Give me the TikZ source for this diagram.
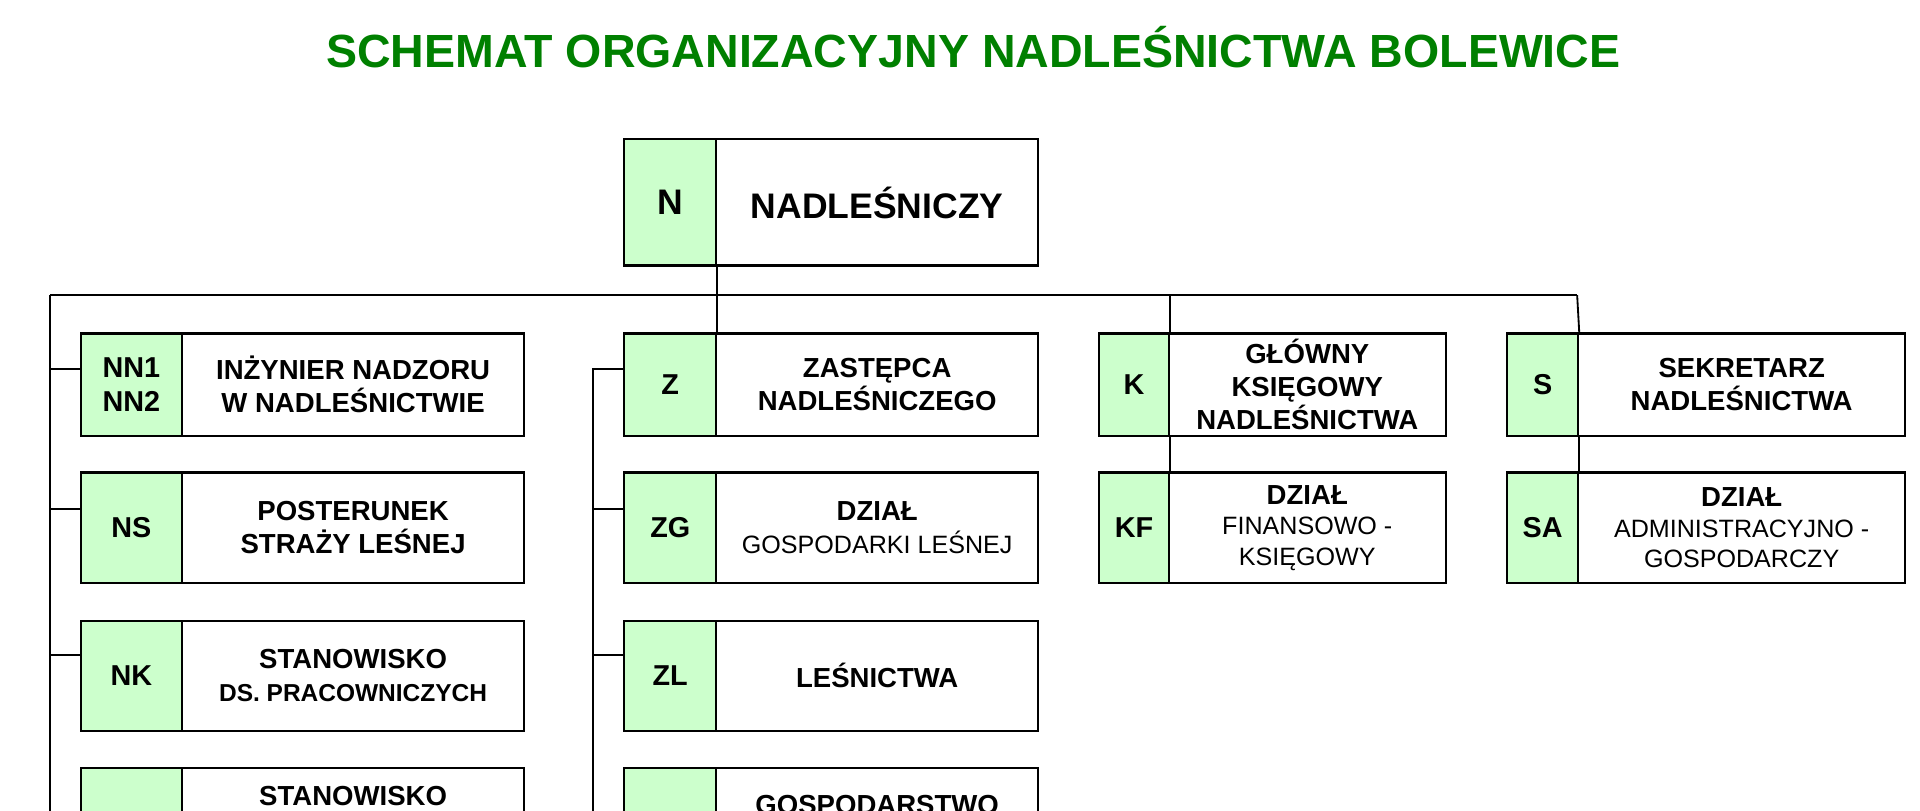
\documentclass[tikz,border=0pt]{standalone}
\usepackage{fontspec}
\setmainfont{Liberation Sans}
\definecolor{titlegreen}{RGB}{0,128,0}
\definecolor{codegreen}{RGB}{204,255,204}
\newcommand\codefont{\bfseries\fontsize{23.5}{27}\selectfont}
\newcommand\txtfont{\bfseries\fontsize{22.5}{27}\selectfont}
\newcommand\bigfont{\bfseries\fontsize{29}{34}\selectfont}
\newcommand\regfont{\mdseries\fontsize{20.5}{25}\selectfont}
\newcommand\smallbold{\bfseries\fontsize{20}{25}\selectfont}
\tikzset{
  codebox/.style={draw=black, line width=1.7pt, fill=codegreen, inner sep=0pt, font=\codefont, align=center},
  txtbox/.style={draw=black, line width=1.7pt, fill=white, inner sep=0pt, font=\txtfont, align=center},
  link/.style={draw=black, line width=1.5pt},
  titletext/.style={text=titlegreen, font=\bfseries\fontsize{38}{44}\selectfont, inner sep=0pt},
  lbl/.style={font=\txtfont, inner sep=0pt}
}
% #1 name, #2 left, #3 divider, #4 right, #5 top, #6 bottom, #7 code, #8 text
\newcommand\orgunit[8]{%
  \node[codebox, minimum width={#3-#2}, minimum height={#6-#5}, anchor=north west] (#1c) at (#2,#5) {#7};
  \node[txtbox, minimum width={#4-#3}, minimum height={#6-#5}, anchor=north west] (#1t) at (#3,#5) {#8};
}
\begin{document}
\begin{tikzpicture}[x=1pt,y=-1pt]
\useasboundingbox (0,0) rectangle (1568,661.5);
\clip (0,0) rectangle (1568,661.5);

\node[titletext, anchor=base] (title) at (795,55) {SCHEMAT ORGANIZACYJNY NADLEŚNICTWA BOLEWICE};

% top
\orgunit{N}{509}{584}{847}{113}{216}{\bigfont N}{\bigfont NADLEŚNICZY}

% row 1
\orgunit{NN}{65}{148}{427}{271.5}{355}{NN1\\NN2}{INŻYNIER NADZORU\\W NADLEŚNICTWIE}
\orgunit{Z}{509}{584}{847}{271.5}{355}{Z}{ZASTĘPCA\\NADLEŚNICZEGO}
\orgunit{K}{897}{953.5}{1180}{271.5}{355}{K}{GŁÓWNY\\KSIĘGOWY\\NADLEŚNICTWA}
\orgunit{S}{1230}{1288}{1555}{271.5}{355}{S}{SEKRETARZ\\NADLEŚNICTWA}

% row 2
\orgunit{NS}{65}{148}{427}{385}{475.5}{NS}{POSTERUNEK\\STRAŻY LEŚNEJ}
\orgunit{ZG}{509}{584}{847}{385}{475.5}{ZG}{DZIAŁ\\{\regfont GOSPODARKI LEŚNEJ}}
\orgunit{KF}{897}{953.5}{1180}{385}{475.5}{KF}{DZIAŁ\\[-2pt]{\regfont FINANSOWO -}\\[-2pt]{\regfont KSIĘGOWY}}
\orgunit{SA}{1230}{1288}{1555}{385}{475.5}{SA}{DZIAŁ\\[-2pt]{\regfont ADMINISTRACYJNO -}\\[-2pt]{\regfont GOSPODARCZY}}

% row 3
\orgunit{NK}{65}{148}{427}{506}{596}{NK}{STANOWISKO\\{\smallbold DS. PRACOWNICZYCH}}
\orgunit{ZL}{509}{584}{847}{506}{596}{ZL}{LEŚNICTWA}

% row 4 (cut by the frame)
\orgunit{RA}{65}{148}{427}{626}{716}{}{}
\orgunit{RB}{509}{584}{847}{626}{716}{}{}
\node[lbl, anchor=base] (RAl) at (RAt.north |- 0,658) {STANOWISKO};
\node[lbl, anchor=base] (RBl) at (RBt.north |- 0,665) {GOSPODARSTWO};

% bus and connectors
\coordinate (busL) at (41,241);
\coordinate (busR) at (1288,241);
\draw[link] (busL) -- (busR);
\draw[link] (Nc.south east) -- (Zc.north east);
\draw[link] (Kc.north east |- busL) -- (Kc.north east);
\draw[link] (Kc.south east) -- (KFc.north east);
\draw[link] (busR) -- (Sc.north east);
\draw[link] (Sc.south east) -- (SAc.north east);

% left trunk
\coordinate (trunkLend) at (41,700);
\draw[link] (busL) -- (trunkLend);
\coordinate (NNj) at ([yshift=-30pt]NNc.north west);
\coordinate (NSj) at ([yshift=-31pt]NSc.north west);
\coordinate (NKj) at ([yshift=-29pt]NKc.north west);
\draw[link] (NNj) -- (busL |- NNj);
\draw[link] (NSj) -- (busL |- NSj);
\draw[link] (NKj) -- (busL |- NKj);

% Z trunk
\coordinate (trunkZend) at (484,700);
\coordinate (Zj) at ([yshift=-30pt]Zc.north west);
\coordinate (ZGj) at ([yshift=-31pt]ZGc.north west);
\coordinate (ZLj) at ([yshift=-29pt]ZLc.north west);
\draw[link] (Zj) -| (trunkZend);
\draw[link] (ZGj) -- (trunkZend |- ZGj);
\draw[link] (ZLj) -- (trunkZend |- ZLj);
\end{tikzpicture}
\end{document}
